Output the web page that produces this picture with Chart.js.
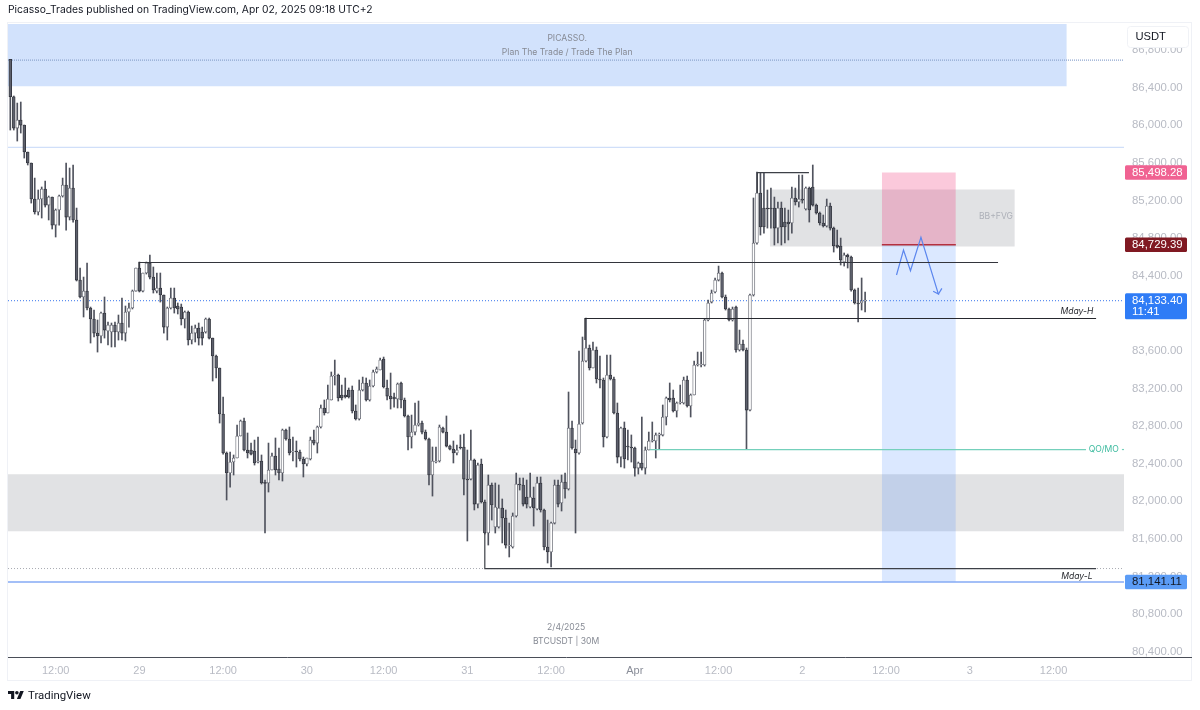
<!DOCTYPE html>
<html lang="en">
  <head>
    <meta charset="UTF-8" />
    <title>BTCUSDT 30M</title>
    <script src="https://cdn.jsdelivr.net/npm/chart.js@4"></script>
    <style>
      body { margin: 0; background: #fff; font-family: Inter, sans-serif; color: #131722; }
      #chart { position: absolute; left: 0; top: 0; }
      #head { position: absolute; left: 8px; top: 2px; font-size: 10.3px; line-height: 14px; white-space: nowrap; }
      #foot { position: absolute; left: 8px; top: 687px; display: flex; align-items: center; font-family: Roboto, sans-serif; font-size: 11.4px; line-height: 16px; }
      #foot svg { margin-right: 4px; }
    </style>
  </head>
  <body>
    <canvas id="chart" width="1200" height="710"></canvas>
    <div id="head">Picasso_Trades published on TradingView.com, Apr 02, 2025 09:18 UTC+2</div>
    <div id="foot">
      <svg width="16" height="12" viewBox="0 0 36 26" fill="#131722"><path d="M14 22H7V11H0V4h14v18zM28 22h-8l7.5-18h8L28 22z" /><circle cx="20" cy="8" r="4" /></svg>
      TradingView
    </div>
    <script>
      const opens = [
        86701, 86303, 85970, 86055, 86002, 85715, 85598, 85215, 85077, 85215,
        85321, 85151, 85236, 84938, 85098, 85247, 85364, 85023, 85332, 84992,
        84353, 84173, 84236, 84056, 83939, 83789, 83758, 84002, 83811, 83800,
        83875, 83800, 83896, 83789, 84013, 84056, 84236, 84481, 84236, 84428,
        84534, 84385, 84236, 84268, 84194, 83853, 84056, 84162, 84077, 84066,
        83939, 84013, 83715, 83789, 83843, 83800, 83800, 83939, 83736, 83545,
        83417, 82928, 82513, 82300, 82417, 82460, 82694, 82853, 82545, 82545,
        82534, 82417, 82428, 82194, 82194, 82332, 82481, 82343, 82300, 82758,
        82662, 82524, 82534, 82524, 82449, 82396, 82449, 82651, 82619, 82790,
        82992, 82939, 83077, 83332, 83343, 83130, 83130, 83183, 83183, 82960,
        82875, 83183, 83258, 83077, 83226, 83375, 83396, 83513, 83205, 83119,
        83109, 83088, 83258, 83077, 82907, 82683, 82736, 82811, 82832, 82736,
        82662, 82279, 82417, 82428, 82779, 82736, 82587, 82555, 82513, 82577,
        82577, 82236, 82236, 82439, 81970, 82396, 81992, 81662, 82173, 81726,
        81726, 81928, 81822, 81524, 81513, 81843, 82183, 82173, 82045, 81939,
        82034, 81917, 82194, 81907, 81513, 81460, 81768, 82173, 81981, 82205,
        82130, 82779, 82555, 82513, 82832, 83492, 83630, 83417, 83609, 83300,
        83290, 82683, 83343, 83300, 82939, 82470, 82779, 82587, 82577, 82566,
        82353, 82407, 82353, 82545, 82641, 82641, 82704, 82704, 82896, 83098,
        83098, 82960, 83045, 83045, 83290, 83013, 83130, 83449, 83449, 83449,
        83928, 84119, 84226, 84353, 84428, 84173, 84045, 83928, 84066, 83609,
        83673, 83609, 82970, 84194, 84747, 85279, 85119, 85119, 85119, 85119,
        84906, 85119, 84970, 84970, 84960, 85226, 85183, 85215, 85109, 85332,
        85343, 85151, 85066, 84960, 84928, 85141, 84906, 84726, 84715, 84545,
        84619, 84598, 84247, 84109, 84109, 84130,
      ];
      const highs = [
        86701, 86311, 86236, 86247, 86002, 85715, 85598, 85438, 85311, 85343,
        85406, 85247, 85236, 85109, 85258, 85438, 85598, 85545, 85577, 85119,
        84481, 84385, 84534, 84066, 84034, 83928, 84013, 84173, 83907, 83896,
        83907, 83981, 84162, 84077, 84109, 84247, 84481, 84545, 84428, 84545,
        84619, 84492, 84428, 84428, 84194, 84066, 84268, 84268, 84109, 84098,
        84024, 84024, 83864, 83875, 83896, 83853, 83949, 83949, 83736, 83555,
        83417, 83109, 82524, 82524, 82492, 82811, 82864, 82885, 82726, 82619,
        82651, 82683, 82492, 82226, 82619, 82513, 82673, 82566, 82768, 82768,
        82790, 82683, 82641, 82545, 82470, 82460, 82683, 82758, 82800, 83024,
        83077, 83236, 83375, 83502, 83353, 83236, 83311, 83205, 83226, 83024,
        83290, 83321, 83311, 83290, 83396, 83428, 83523, 83534, 83290, 83364,
        83151, 83258, 83268, 83098, 82917, 82917, 83045, 83066, 82853, 82758,
        82673, 82577, 82577, 82811, 82790, 82907, 82598, 82641, 82598, 82705,
        82715, 82545, 82758, 82449, 82407, 82449, 82013, 82279, 82194, 82194,
        82173, 82024, 81907, 81768, 81875, 82300, 82247, 82247, 82226, 82300,
        82151, 82258, 82258, 81917, 81800, 81779, 82226, 82226, 82279, 82300,
        83162, 82853, 82651, 83598, 83747, 83949, 83662, 83694, 83641, 83545,
        83311, 83555, 83555, 83321, 83045, 82790, 82843, 82758, 82705, 82577,
        82417, 82896, 82577, 82736, 82843, 82726, 82726, 83024, 83109, 83258,
        83183, 83056, 83236, 83321, 83332, 83141, 83492, 83587, 83587, 83939,
        84141, 84247, 84375, 84502, 84439, 84194, 84056, 84066, 84077, 83821,
        83715, 83630, 84204, 85226, 85502, 85491, 85491, 85311, 85332, 85236,
        85183, 85183, 85119, 85098, 85343, 85332, 85470, 85470, 85343, 85343,
        85577, 85162, 85077, 85045, 85215, 85172, 84917, 84885, 84800, 84641,
        84630, 84609, 84258, 84268, 84375, 84226,
      ];
      const lows = [
        85949, 85949, 85832, 85917, 85651, 85577, 85172, 85055, 85045, 85013,
        85130, 84992, 84896, 84811, 84938, 85236, 84885, 84992, 84970, 84343,
        84162, 83960, 84034, 83683, 83747, 83587, 83683, 83736, 83662, 83641,
        83641, 83715, 83715, 83704, 83853, 84045, 84236, 84226, 84226, 84417,
        84364, 84215, 84215, 84119, 83789, 83715, 84045, 84002, 83992, 83875,
        83843, 83662, 83673, 83694, 83662, 83662, 83789, 83726, 83279, 83311,
        82832, 82502, 82013, 82151, 82279, 82460, 82694, 82534, 82460, 82492,
        82385, 82407, 82183, 81662, 82098, 82332, 82279, 82226, 82215, 82651,
        82492, 82428, 82364, 82428, 82258, 82375, 82439, 82598, 82513, 82779,
        82917, 82939, 83077, 83236, 83066, 83077, 83098, 83098, 82939, 82864,
        82864, 83173, 83066, 83066, 83215, 83364, 83396, 83205, 83077, 82981,
        83002, 82992, 82992, 82896, 82545, 82566, 82705, 82800, 82715, 82651,
        82173, 82055, 82407, 82417, 82726, 82577, 82545, 82407, 82492, 82555,
        82066, 81577, 82226, 81907, 81928, 81981, 81651, 81534, 81800, 81662,
        81715, 81556, 81502, 81407, 81502, 81832, 82119, 81949, 81928, 81928,
        81736, 81907, 81885, 81481, 81343, 81300, 81758, 81939, 81896, 82034,
        82119, 82555, 81662, 82502, 82821, 83481, 83396, 83417, 83258, 83205,
        82577, 82673, 83290, 82928, 82407, 82364, 82353, 82439, 82417, 82268,
        82289, 82332, 82289, 82545, 82630, 82460, 82555, 82694, 82811, 83056,
        82949, 82896, 83034, 83034, 83002, 82896, 83130, 83438, 83428, 83438,
        83917, 84109, 84215, 84343, 84162, 84034, 83917, 83917, 83587, 83598,
        83598, 82550, 82960, 84183, 84736, 84832, 84853, 84906, 84906, 84726,
        84747, 84726, 84747, 84779, 84853, 85151, 85130, 85172, 85098, 84970,
        85140, 85055, 84938, 84917, 84917, 84885, 84651, 84694, 84513, 84502,
        84481, 84236, 84098, 83907, 84034, 84013,
      ];
      const closes = [
        86303, 85970, 86055, 86002, 85715, 85598, 85215, 85077, 85215, 85321,
        85151, 85236, 84938, 85098, 85247, 85364, 85023, 85332, 84992, 84353,
        84173, 84236, 84056, 83939, 83789, 83758, 84002, 83821, 83875, 83875,
        83800, 83896, 83789, 84013, 84056, 84236, 84481, 84236, 84428, 84534,
        84385, 84247, 84268, 84194, 83853, 84056, 84162, 84056, 84045, 83939,
        84013, 83715, 83789, 83843, 83736, 83736, 83939, 83736, 83545, 83417,
        82928, 82513, 82300, 82417, 82460, 82694, 82853, 82545, 82513, 82502,
        82407, 82428, 82194, 82190, 82332, 82481, 82332, 82300, 82758, 82662,
        82513, 82534, 82524, 82449, 82396, 82460, 82651, 82619, 82790, 82992,
        82939, 83088, 83332, 83343, 83098, 83098, 83109, 83109, 82960, 82875,
        83183, 83258, 83077, 83226, 83375, 83406, 83502, 83215, 83119, 83088,
        83088, 83247, 83077, 82907, 82683, 82736, 82811, 82832, 82736, 82662,
        82279, 82428, 82428, 82790, 82736, 82587, 82555, 82513, 82545, 82566,
        82236, 82226, 82439, 81970, 82385, 81992, 81662, 82173, 81960, 81939,
        81928, 81822, 81534, 81534, 81843, 82183, 82173, 81970, 81970, 82045,
        81928, 82194, 81907, 81513, 81460, 81768, 82173, 81970, 82205, 82130,
        82779, 82566, 82513, 82821, 83492, 83630, 83417, 83609, 83300, 83290,
        82683, 83343, 83300, 82939, 82470, 82779, 82449, 82577, 82566, 82353,
        82407, 82353, 82545, 82641, 82651, 82704, 82715, 82896, 83098, 83077,
        82960, 83045, 83056, 83290, 83013, 83130, 83449, 83460, 83460, 83928,
        84109, 84215, 84353, 84428, 84173, 84045, 83928, 84045, 83609, 83673,
        83609, 82970, 84194, 84747, 85279, 84917, 84917, 85109, 85109, 84906,
        85119, 84917, 84917, 84949, 85226, 85183, 85215, 85204, 85332, 85098,
        85151, 85066, 84960, 84928, 85141, 84906, 84715, 84704, 84566, 84619,
        84598, 84247, 84109, 84098, 84130, 84133.4,
      ];
      const tickIndex = [13, 37, 61, 85, 107, 131, 155, 179, 203, 227, 251, 275, 299];
      const tickLabels = ["12:00", "29", "12:00", "30", "12:00", "31", "12:00", "Apr", "12:00", "2", "12:00", "3", "12:00"];
      const priceTicks = [
        80400, 80800, 81200, 81600, 82000, 82400, 82800, 83200,
        83600, 84000, 84400, 84800, 85200, 85600, 86000, 86400, 86800,
      ];

      // [left bar, right bar, top price, bottom price]
      const topZone = [-0.66, 302.8, 87077, 86416];
      const lowerZone = [-0.66, 319.2, 82288, 81680];
      const fvgZone = [217.7, 287.9, 85317, 84709];
      const stopZone = [249.8, 271, 85498.28, 84729.39];
      const targetZone = [249.8, 271, 84729.39, 81141.11];

      const sweepLineX = [36.9, 36.9, 283.1];
      const sweepLineY = [84481, 84540, 84540];
      const mdayHighX = [164.7, 164.7, 311.2];
      const mdayHighY = [83715, 83944, 83944];
      const mdayLowX = [136, 136, 311.2];
      const mdayLowY = [81662, 81284, 81284];
      const qoLineX = [183.3, 308.3];
      const qoLineY = [82550, 82550];
      const qoTailX = [318.6, 319.2];
      const qoTailY = [82550, 82550];
      const topBoxX = [214.1, 214.1, 228.9];
      const topBoxY = [85279, 85495, 85495];
      const arrowX = [254, 256, 258, 261, 266, 264.5];
      const arrowY = [84407, 84673, 84452, 84808, 84204, 84233];
      const arrowHeadX = [266, 267];
      const arrowHeadY = [84204, 84265];

      const fullX = [-0.66, 319.2];
      const topDotted = 86693;
      const upperLine = 85765;
      const lastPrice = 84133.4;
      const lowDotted = 81284;
      const bottomLine = 81141.11;

      const noteText = ["PICASSO.", "Plan The Trade / Trade The Plan", "BB+FVG", "2/4/2025", "BTCUSDT | 30M"];
      const noteBar = [159.6, 159.6, 282.5, 159.3, 159.3];
      const notePrice = [86928, 86778, 85030, 80662, 80513];
      const tagText = ["Mday-H", "Mday-L", "QO/MO"];
      const tagBar = [305.7, 305.7, 313.4];
      const tagPrice = [84015, 81204, 82550];
      const badgePrices = [85498.28, 84729.39, 84133.4, 81141.11];
      const badgeText = ["85,498.28", "84,729.39", "84,133.40", "81,141.11"];
      const countdown = "11:41";

      const bars = opens.map((o, i) => i);

      function zoneSet(z, color, order) {
        return {
          type: "line",
          data: [{ x: z[0], y: z[2] }, { x: z[1], y: z[2] }],
          fill: { value: z[3] },
          backgroundColor: color,
          borderWidth: 0,
          pointRadius: 0,
          order: order,
        };
      }

      function lineSet(xs, ys, color, width, dash, order) {
        return {
          type: "line",
          data: xs.map((x, i) => ({ x: x, y: ys[i] })),
          borderColor: color,
          borderWidth: width,
          borderDash: dash || [],
          pointRadius: 0,
          tension: 0,
          fill: false,
          order: order,
        };
      }

      const overlayText = {
        id: "overlayText",
        afterDraw(chart) {
          const { ctx, scales } = chart;
          const x = scales.x;
          const y = scales.y;
          ctx.save();

          // frame and the axis line carried under the price scale
          ctx.strokeStyle = "#eff1f6";
          ctx.lineWidth = 1;
          ctx.strokeRect(7.5, 22.5, 1184, 658);
          ctx.strokeStyle = "#4a4e58";
          ctx.beginPath();
          ctx.moveTo(1125, 657.5);
          ctx.lineTo(1192, 657.5);
          ctx.stroke();

          ctx.textBaseline = "middle";
          ctx.textAlign = "center";
          noteText.forEach((t, i) => {
            ctx.font = "8.6px Inter";
            ctx.fillStyle = i === 2 ? "#adb0b8" : "#868a94";
            ctx.fillText(t, x.getPixelForValue(noteBar[i]), y.getPixelForValue(notePrice[i]));
          });
          tagText.forEach((t, i) => {
            ctx.font = i === 2 ? "8.6px Inter" : "italic 8.6px Inter";
            ctx.fillStyle = i === 2 ? "#3dbb9f" : "#26282e";
            ctx.fillText(t, x.getPixelForValue(tagBar[i]), y.getPixelForValue(tagPrice[i]));
          });

          // USDT button sits over the top tick
          ctx.fillStyle = "#fff";
          ctx.strokeStyle = "#f0f2f6";
          ctx.beginPath();
          ctx.roundRect(1127.5, 26.5, 61, 21, 3);
          ctx.fill();
          ctx.stroke();
          ctx.fillStyle = "#131722";
          ctx.font = "11.2px 'Liberation Sans'";
          ctx.textAlign = "left";
          ctx.fillText("USDT", 1135.5, 37);

          const fills = ["#f06292", "#801922", "#2f7cf6", "#5b9cf6"];
          const inks = ["#fff", "#fff", "#fff", "#131722"];
          badgePrices.forEach((p, i) => {
            const py = y.getPixelForValue(p);
            const two = i === 2;
            const top = two ? py - 7.5 : py - 7.2;
            ctx.fillStyle = fills[i];
            ctx.beginPath();
            ctx.roundRect(1125, top, 62, two ? 26 : 14.5, 1.5);
            ctx.fill();
            ctx.fillStyle = inks[i];
            ctx.font = "11.4px 'Liberation Sans'";
            ctx.fillText(badgeText[i], 1132, top + 7.5);
            if (two) ctx.fillText(countdown, 1132, top + 19);
          });
          ctx.restore();
        },
      };

      new Chart(document.getElementById("chart"), {
        type: "bar",
        data: {
          datasets: [
            {
              label: "bodies",
              data: bars.map((i) => ({ x: i, y: [opens[i], closes[i]] })),
              grouped: false,
              barThickness: 2.8,
              minBarLength: 1,
              borderSkipped: false,
              borderWidth: 0.8,
              backgroundColor: bars.map((i) => (closes[i] >= opens[i] ? "#ffffff" : "#5d606c")),
              borderColor: bars.map((i) => (closes[i] >= opens[i] ? "#5f626c" : "#2e3038")),
              order: 2,
            },
            {
              label: "wicks",
              data: bars.map((i) => ({ x: i, y: [lows[i], highs[i]] })),
              grouped: false,
              barThickness: 1,
              backgroundColor: "#50535e",
              order: 3,
            },
            lineSet(sweepLineX, sweepLineY, "#33353c", 1.2, null, 1),
            lineSet(mdayHighX, mdayHighY, "#26282e", 1.2, null, 1),
            lineSet(mdayLowX, mdayLowY, "#3d4047", 1.2, null, 1),
            lineSet(qoLineX, qoLineY, "#74d0bb", 1.2, null, 1),
            lineSet(qoTailX, qoTailY, "#74d0bb", 1.2, null, 1),
            lineSet(topBoxX, topBoxY, "#3d4047", 1.2, null, 1),
            lineSet(arrowX, arrowY, "#5b86ee", 1.2, null, 1),
            lineSet(arrowHeadX, arrowHeadY, "#5b86ee", 1.2, null, 1),
            lineSet(stopZone.slice(0, 2), [stopZone[3], stopZone[3]], "#b5303f", 1.4, null, 1),
            lineSet(fullX, [topDotted, topDotted], "#8ea6cf", 1.3, [1, 1], 4),
            lineSet(fullX, [upperLine, upperLine], "#d0dff9", 1.3, null, 4),
            lineSet(fullX, [lastPrice, lastPrice], "#5f90f0", 1.2, [1, 2], 4),
            lineSet(fullX, [lowDotted, lowDotted], "#a9abb2", 1, [1, 2], 4),
            lineSet(fullX, [bottomLine, bottomLine], "#84aaf5", 1.5, null, 1),
            zoneSet(stopZone, "rgba(242,54,122,0.27)", 5),
            zoneSet(targetZone, "rgba(41,118,255,0.17)", 5),
            zoneSet(topZone, "rgba(41,118,240,0.21)", 6),
            zoneSet(lowerZone, "rgba(120,123,134,0.22)", 6),
            zoneSet(fvgZone, "rgba(120,123,134,0.22)", 6),
          ],
        },
        options: {
          responsive: false,
          animation: false,
          layout: { padding: { left: 8, right: 8, top: 24, bottom: 30 } },
          plugins: { legend: { display: false }, tooltip: { enabled: false } },
          scales: {
            x: {
              type: "linear",
              offset: false,
              min: -0.66,
              max: 319.2,
              grid: { display: false, offset: false, drawTicks: false },
              border: { color: "#4a4e58", width: 1 },
              afterBuildTicks(scale) {
                scale.ticks = tickIndex.map((v) => ({ value: v }));
              },
              afterFit(scale) {
                scale.height = 23;
              },
              ticks: {
                autoSkip: false,
                maxRotation: 0,
                padding: 7,
                color(c) {
                  return c.index === 7 ? "#8a8e99" : "#b8bbc4";
                },
                font: { family: "'Liberation Sans'", size: 11 },
                callback(v, i) {
                  return tickLabels[i];
                },
              },
            },
            y: {
              position: "right",
              min: 80343,
              max: 87077,
              grid: { display: false, drawTicks: false },
              border: { display: false },
              afterBuildTicks(scale) {
                scale.ticks = priceTicks.map((v) => ({ value: v }));
              },
              afterFit(scale) {
                scale.width = 68;
              },
              ticks: {
                autoSkip: false,
                padding: 8,
                color: "#b8bbc4",
                font: { family: "'Liberation Sans'", size: 11.4 },
                callback(v) {
                  return v.toLocaleString("en-US", { minimumFractionDigits: 2 });
                },
              },
            },
          },
        },
        plugins: [overlayText],
      });
    </script>
  </body>
</html>
